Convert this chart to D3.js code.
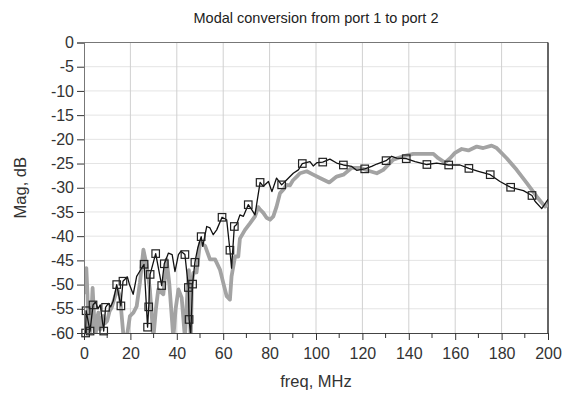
<!DOCTYPE html>
<html><head><meta charset="utf-8">
<script src="https://cdn.jsdelivr.net/npm/d3@7"></script>
<style>body{margin:0;background:#fff}text{font-family:"Liberation Sans",Arial,sans-serif}</style>
</head><body><svg id="c" width="564" height="405"></svg>
<script>
const title = "Modal conversion from port 1 to port 2";
const xLabel = "freq, MHz";
const yLabel = "Mag, dB";
const xTicks = [0,20,40,60,80,100,120,140,160,180,200];
const xMinorTicks = [10,30,50,70,90,110,130,150,170,190];
const yTicks = [0,-5,-10,-15,-20,-25,-30,-35,-40,-45,-50,-55,-60];

// black curve (with square markers)
const blackFreq = [0.7,0.9,2.6,3.9,5,6,7,8.5,9.3,10.5,11.5,12.6,14.1,15.9,16.8,18.7,19.6,21.2,22.7,24.1,25.9,27.4,27.9,28.5,30.9,33.5,34.6,36.4,38,39.2,40.7,41.8,43.5,45,45.3,46,46.8,47.8,49,50.5,51.2,52.9,54.3,55.7,57.2,59.5,61.5,62.9,63.6,64.8,65.8,67.2,68.7,70.8,72.3,73.7,75.9,77.3,79.5,81,83,85.2,87.3,90.2,92.4,94.1,97.4,98.8,100.5,102.9,106,108.9,111.8,115.4,117.5,121,124,126.2,130.2,132.6,134.8,138.9,142.7,147.8,152,157.2,162.1,165.9,170,175.1,179.3,183.9,189.4,193.1,194.4,197.3,200];
const blackMag = [-60,-55.4,-59.6,-54.2,-53.6,-55,-54.2,-59.6,-54.7,-53.9,-54.6,-53.4,-50,-54.4,-49.3,-48.4,-50,-52,-48.3,-47.2,-45.8,-58.8,-54.6,-47.9,-43.6,-50.2,-45.7,-43.5,-43.8,-47.3,-43.8,-43.1,-43.8,-50.6,-57.2,-60.5,-49.9,-45.4,-42.5,-40.1,-42.1,-38,-38.3,-39.7,-38.7,-36.1,-36.6,-42.9,-46.6,-38,-37.6,-35.6,-35.9,-33.5,-34.5,-35.6,-28.9,-29.7,-28.7,-30.8,-28,-29.4,-28.4,-27,-26.3,-25,-24.6,-25.5,-24.8,-24.7,-24.1,-24.9,-25.3,-25.6,-26.4,-26.1,-25.6,-25.1,-24.4,-23.5,-23.9,-24,-24.6,-25.2,-24.9,-25.3,-25.3,-26,-26.6,-27.3,-28.7,-29.9,-30.6,-31.6,-32.8,-34.3,-32.4];

// marker positions on the black curve
const markerFreq = [0.7,0.9,2.6,3.9,8.5,9.3,14.1,15.9,16.8,25.9,27.4,27.9,28.5,30.9,33.5,34.6,43.5,45,45.3,46.8,47.8,50.5,59.5,62.9,64.8,70.8,75.9,85.2,94.1,102.9,111.8,121,130.2,138.9,147.8,157.2,165.9,175.1,183.9,193.1];
const markerMag = [-60,-55.4,-59.6,-54.2,-59.6,-54.7,-50,-54.4,-49.3,-45.8,-58.8,-54.6,-47.9,-43.6,-50.2,-45.7,-43.8,-50.6,-57.2,-49.9,-45.4,-40.1,-36.1,-42.9,-38,-33.5,-28.9,-29.4,-25,-24.7,-25.3,-26.1,-24.4,-24,-25.2,-25.3,-26,-27.3,-29.9,-31.6];

// gray curve
const grayFreq = [0.2,0.5,1,1.5,2,3,3.7,4.3,4.8,5.6,6.2,6.9,7.5,8.3,9,10,11,11.9,13.4,14.4,15.5,16.9,18.4,19.8,21.3,22.7,24.1,25.6,27,28.4,29.9,31,32,33,34.2,35.6,36.8,38.5,39.5,40.7,42.1,43.5,44.5,45.2,46,46.5,47.1,48.5,50,52.2,54.3,56.5,58.6,60,61.5,62.9,63.6,65.1,66.5,67.2,69.4,71.6,73.7,75.1,75.9,77.3,78.7,80.2,81.6,83,84.5,85.9,87.3,88.8,90,91.7,93.1,96,98.8,101.7,105.7,108.9,111.8,115.4,119,123.3,126.2,129,133.3,137.6,141.9,146.3,150.6,152.7,155.6,157.8,159.9,162.8,165.7,169.3,172.1,175.7,177.9,182.2,186.5,190.8,195.1,198.7,200];
const grayMag = [-52,-47,-46.6,-52,-62,-58,-50.7,-56,-62,-57,-55.8,-59.3,-57,-56.5,-58,-57.5,-55.5,-54.8,-52.4,-51,-52.4,-60,-61,-56.5,-55.8,-54.5,-49.6,-42.8,-46,-51,-61,-55,-51,-51.5,-52,-44.8,-50,-61,-55,-51,-52.7,-61,-52,-47,-62,-50,-47.6,-47.5,-41.4,-42,-44.8,-44.8,-46.9,-49.6,-52.4,-53.1,-48.3,-44.2,-44.2,-40.5,-38.7,-37.3,-35.9,-34,-34.5,-35.2,-36.2,-36.6,-35.9,-33.9,-31.1,-30.4,-29.4,-29.5,-28.5,-27.7,-27,-26.6,-27.3,-28,-28.9,-27.7,-27.3,-25.9,-25.9,-26.6,-27,-26.3,-24.2,-23.5,-23,-23,-23,-23.9,-24.8,-23.9,-22.8,-22,-22.3,-21.5,-21.8,-21.3,-21.8,-23.9,-26.3,-29,-31.8,-33.9,-33.5];

const svg = d3.select("#c");
const L = 84, R = 548, T = 42.5, B = 333;
const FONT = "Liberation Sans, Arial, sans-serif";
const x = d3.scaleLinear().domain([0,200]).range([L,R]);
const y = d3.scaleLinear().domain([-60,0]).range([B,T]);

// grid
svg.append("g").selectAll("line").data(yTicks.filter(d=>d!==0 && d!==-60)).join("line")
  .attr("x1",L).attr("x2",R).attr("y1",d=>y(d)).attr("y2",d=>y(d))
  .attr("stroke","#e4e4e4").attr("stroke-width",1);
svg.append("g").selectAll("line").data(xTicks.filter(d=>d!==0 && d!==200)).join("line")
  .attr("y1",T).attr("y2",B).attr("x1",d=>x(d)).attr("x2",d=>x(d))
  .attr("stroke","#d0d0d0").attr("stroke-width",1);

// frame top/right
svg.append("line").attr("x1",L).attr("x2",R).attr("y1",T).attr("y2",T).attr("stroke","#777");
svg.append("line").attr("x1",R).attr("x2",R).attr("y1",T).attr("y2",B).attr("stroke","#333").attr("stroke-width",1.5);

// clip
svg.append("clipPath").attr("id","clip").append("rect").attr("x",L).attr("y",T).attr("width",R-L).attr("height",B-T);
const plot = svg.append("g").attr("clip-path","url(#clip)");

const gray = grayFreq.map((f,i)=>[f,grayMag[i]]);
const black = blackFreq.map((f,i)=>[f,blackMag[i]]);
const markers = markerFreq.map((f,i)=>[f,markerMag[i]]);
const line = d3.line().x(d=>x(d[0])).y(d=>y(d[1]));

plot.append("path").attr("d",line(gray)).attr("fill","none").attr("stroke","#a3a3a3").attr("stroke-width",3.8).attr("stroke-linejoin","round");
plot.append("path").attr("d",line(black)).attr("fill","none").attr("stroke","#111").attr("stroke-width",1.3).attr("stroke-linejoin","round");
svg.append("g").selectAll("rect").data(markers).join("rect")
  .attr("x",d=>x(d[0])-3.75).attr("y",d=>y(d[1])-3.75).attr("width",7.5).attr("height",7.5)
  .attr("fill","none").attr("stroke","#222").attr("stroke-width",1.2);

// axes
const yAxis = d3.axisLeft(y).tickValues(yTicks).tickSize(7).tickPadding(3).tickFormat(d=>String(d));
const gy = svg.append("g").attr("transform",`translate(${L},0)`).call(yAxis);
gy.select(".domain").attr("stroke","#777");
gy.selectAll(".tick line").attr("stroke","#333");
gy.selectAll("text").attr("font-size",16).attr("fill","#333").attr("font-family",FONT);

const xAxis = d3.axisBottom(x).tickValues(xTicks).tickSize(7).tickPadding(8);
const gx = svg.append("g").attr("transform",`translate(0,${B})`).call(xAxis);
gx.select(".domain").attr("stroke","#444");
gx.selectAll(".tick line").attr("stroke","#333");
gx.selectAll("text").attr("font-size",16).attr("fill","#333").attr("font-family",FONT);
svg.append("g").selectAll("line").data(xMinorTicks).join("line")
  .attr("x1",d=>x(d)).attr("x2",d=>x(d)).attr("y1",B).attr("y2",B+5).attr("stroke","#333");

// labels
svg.append("text").attr("x",(L+R)/2).attr("y",23).attr("text-anchor","middle").attr("font-size",14.5).attr("fill","#222").text(title);
svg.append("text").attr("x",(L+R)/2).attr("y",387).attr("text-anchor","middle").attr("font-size",16.5).attr("fill","#333").text(xLabel);
svg.append("text").attr("transform",`translate(26,${(T+B)/2}) rotate(-90)`).attr("text-anchor","middle").attr("font-size",16.5).attr("fill","#333").text(yLabel);
</script></body></html>
